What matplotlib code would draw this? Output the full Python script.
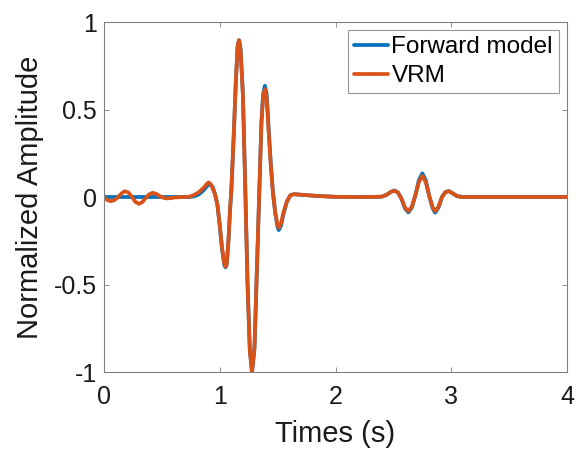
import matplotlib
matplotlib.use("Agg")
import matplotlib.pyplot as plt
from matplotlib.ticker import FuncFormatter

# ---- data ----
times = [0.00, 0.03, 0.06, 0.09, 0.12, 0.15, 0.18, 0.21, 0.24, 0.27, 0.30, 0.33,
         0.36, 0.39, 0.42, 0.45, 0.48, 0.51, 0.54, 0.58, 0.62, 0.70, 0.74, 0.78,
         0.82, 0.86, 0.89, 0.905, 0.92, 0.94, 0.96, 0.98, 1.00, 1.02, 1.04, 1.05,
         1.06, 1.075, 1.09, 1.10, 1.12, 1.14, 1.155, 1.167, 1.18, 1.20, 1.22, 1.24,
         1.26, 1.279, 1.30, 1.32, 1.34, 1.36, 1.375, 1.39, 1.405, 1.42, 1.44, 1.46,
         1.48, 1.50, 1.51, 1.53, 1.55, 1.58, 1.61, 1.64, 1.70, 1.80, 1.90, 2.00,
         2.20, 2.30, 2.40, 2.44, 2.48, 2.51, 2.54, 2.57, 2.60, 2.63, 2.66, 2.69,
         2.72, 2.75, 2.78, 2.81, 2.84, 2.86, 2.89, 2.92, 2.95, 2.98, 3.01, 3.05,
         3.10, 4.00]

forward_model = [0.000, 0.000, 0.000, 0.000, 0.000, 0.000, 0.000, 0.000, 0.000, 0.000, 0.000, 0.000,
                 0.000, 0.000, 0.000, 0.000, 0.000, 0.000, 0.000, 0.000, 0.000, 0.000, 0.000, 0.004,
                 0.015, 0.038, 0.062, 0.072, 0.073, 0.054, 0.016, -0.045, -0.165, -0.300, -0.390, -0.402,
                 -0.388, -0.255, -0.065, 0.035, 0.335, 0.675, 0.868, 0.896, 0.845, 0.590, 0.070, -0.490,
                 -0.875, -1.000, -0.865, -0.440, -0.010, 0.425, 0.590, 0.636, 0.590, 0.420, 0.200, 0.025,
                 -0.095, -0.172, -0.189, -0.162, -0.098, -0.028, 0.010, 0.016, 0.013, 0.008, 0.004, 0.001,
                 0.000, 0.000, 0.002, 0.012, 0.030, 0.037, 0.026, -0.010, -0.065, -0.088, -0.060, 0.010,
                 0.095, 0.135, 0.095, 0.005, -0.065, -0.090, -0.060, 0.000, 0.028, 0.034, 0.022, 0.005,
                 0.000, 0.000]

vrm = [0.000, -0.018, -0.024, -0.018, -0.002, 0.020, 0.033, 0.026, 0.002, -0.027, -0.039, -0.030,
       -0.006, 0.015, 0.024, 0.018, 0.006, -0.004, -0.008, -0.006, -0.002, 0.000, 0.002, 0.012,
       0.028, 0.052, 0.076, 0.083, 0.074, 0.048, 0.012, -0.045, -0.160, -0.290, -0.385, -0.398,
       -0.385, -0.250, -0.060, 0.040, 0.340, 0.680, 0.870, 0.896, 0.840, 0.580, 0.060, -0.500,
       -0.880, -1.000, -0.860, -0.430, 0.000, 0.420, 0.580, 0.617, 0.570, 0.400, 0.190, 0.020,
       -0.090, -0.160, -0.175, -0.150, -0.090, -0.025, 0.010, 0.016, 0.013, 0.008, 0.004, 0.001,
       0.000, 0.000, 0.002, 0.012, 0.030, 0.036, 0.025, -0.010, -0.060, -0.081, -0.055, 0.010,
       0.085, 0.121, 0.085, 0.005, -0.060, -0.081, -0.055, 0.000, 0.028, 0.033, 0.022, 0.005,
       0.000, 0.000]

series_labels = ["Forward model", "VRM"]
x_ticks = [0, 1, 2, 3, 4]
y_ticks = [-1, -0.5, 0, 0.5, 1]
x_label = "Times (s)"
y_label = "Normalized Amplitude"

# ---- styling ----
plt.rcParams['font.family'] = ['Liberation Sans', 'DejaVu Sans']
blue = '#0072BD'
orange = '#D95319'
edge = '#808080'
txt = '#1a1a1a'
LW = 2.7

fig = plt.figure(figsize=(5.81, 4.49), dpi=100)
ax = fig.add_axes([104 / 581, 1 - 372 / 449, 463 / 581, 350 / 449])

ax.plot(times, forward_model, color=blue, lw=LW, label=series_labels[0],
        solid_joinstyle='round', solid_capstyle='round')
ax.plot(times, vrm, color=orange, lw=LW, label=series_labels[1],
        solid_joinstyle='round', solid_capstyle='round')

ax.set_xlim(0, 4)
ax.set_ylim(-1, 1)
ax.set_xticks(x_ticks)
ax.set_yticks(y_ticks)

def fmt(v, pos):
    return ('%g' % v).replace('\u2212', '-')

ax.xaxis.set_major_formatter(FuncFormatter(fmt))
ax.yaxis.set_major_formatter(FuncFormatter(fmt))

for sp in ax.spines.values():
    sp.set_color(edge)
    sp.set_linewidth(0.8)

ax.tick_params(direction='in', length=3.3, width=0.6, color=edge,
               top=True, right=True, labelsize=18, labelcolor=txt)
ax.tick_params(axis='x', pad=9)
ax.tick_params(axis='y', pad=5)

ax.set_xlabel(x_label, fontsize=21, color=txt, labelpad=8)
ax.set_ylabel(y_label, fontsize=21, color=txt, labelpad=7)

leg = ax.legend(loc='upper right', fontsize=17.5, frameon=True, fancybox=False,
                borderaxespad=0.33, borderpad=0.25, handlelength=1.4,
                handletextpad=0.15, labelspacing=0.3)
leg.get_frame().set_edgecolor(edge)
leg.get_frame().set_linewidth(0.8)
for line in leg.get_lines():
    line.set_linewidth(LW)

fig.savefig('out.png', dpi=100)
